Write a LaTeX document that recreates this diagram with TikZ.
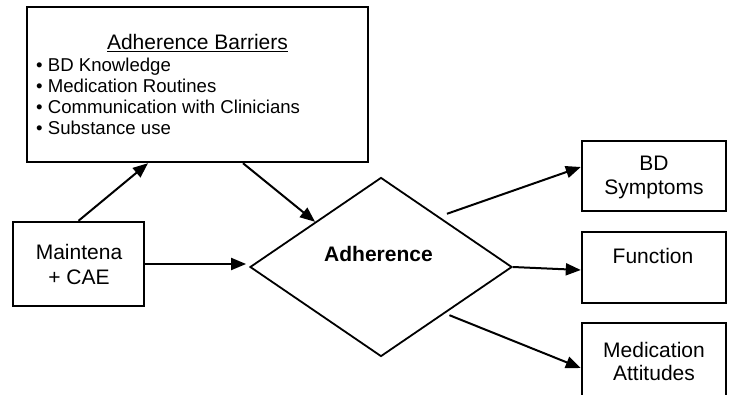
\documentclass[tikz,border=0pt]{standalone}
\usepackage{fontspec}
\setmainfont{Liberation Sans}
\usetikzlibrary{arrows.meta,shapes.geometric}
\begin{document}
\begin{tikzpicture}[x=1pt,y=1pt,
  box/.style={draw, line width=2.4pt, rectangle, inner sep=0pt},
  lbl/.style={inner sep=0pt, anchor=base, font=\fontsize{21}{25}\selectfont},
  blt/.style={inner sep=0pt, anchor=base west, font=\fontsize{18.6}{21}\selectfont},
  arr/.style={line width=2pt, -{Triangle[length=15pt,width=12pt]}},
  dia/.style={draw, line width=1.8pt, diamond, inner sep=0pt, aspect=1.4637,
    minimum width=262pt, minimum height=179pt}
]
\useasboundingbox (0,0) rectangle (731,394);
\clip (0,0) rectangle (731,394);
\fill[white] (0,0) rectangle (731,394);

% boxes
\node[box, minimum width=341pt, minimum height=155pt] (barr) at (197.5,309.5) {};
\node[box, minimum width=131pt, minimum height=84pt] (maint) at (78.5,130) {};
\node[dia] (adh) at (381,127) {};
\node[box, minimum width=144pt, minimum height=70pt] (bd) at (654,218) {};
\node[box, minimum width=144pt, minimum height=71pt] (func) at (654,126.5) {};
\node[box, minimum width=144pt, minimum height=91pt] (med) at (654,25.5) {};

% texts
\node[lbl] (ttl) at (197.5,344) {\underline{Adherence Barriers}};
\node[blt] (b1) at (36,322) {\textbullet\ BD Knowledge};
\node[blt] (b2) at (36,301) {\textbullet\ Medication Routines};
\node[blt] (b3) at (36,280) {\textbullet\ Communication with Clinicians};
\node[blt] (b4) at (36,259) {\textbullet\ Substance use};

\node[lbl] (m1) at (79,135) {Maintena};
\node[lbl] (m2) at (79,110) {+ CAE};

\node[lbl, font=\fontsize{21}{25}\selectfont\bfseries] (adht) at (378.5,132) {Adherence};

\node[lbl] (bd1) at (654,223) {BD};
\node[lbl] (bd2) at (654,199) {Symptoms};
\node[lbl] (f1) at (653,131) {Function};
\node[lbl] (md1) at (654,37) {Medication};
\node[lbl] (md2) at (654,14) {Attitudes};

% connectors
\draw[arr] (maint.north) -- ([xshift=-49.5pt]barr.south);
\draw[arr] ([xshift=45.5pt]barr.south) -- (adh.north west);
\draw[arr] (maint.east) -- ([xshift=-3pt]maint.east -| adh.west);
\draw[arr] ([yshift=8pt]adh.north east) -- ([yshift=9pt]bd.west);
\draw[arr] (adh.east) -- ([yshift=-2.5pt]func.west);
\draw[arr] ([shift={(2.5pt,-3pt)}]adh.south east) -- ([yshift=0.5pt]med.west);
\end{tikzpicture}
\end{document}
